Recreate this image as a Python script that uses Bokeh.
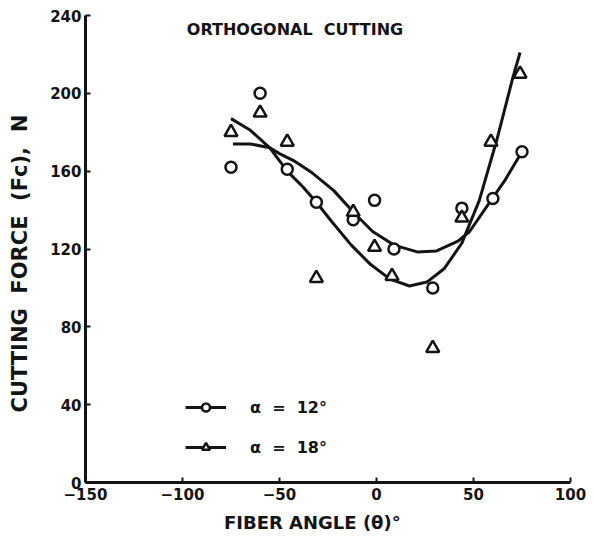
from bokeh.plotting import figure
from bokeh.models import Range1d, FixedTicker, Label, Legend, LegendItem
from bokeh.embed import file_html
from bokeh.resources import INLINE

# ---- data ----
angle_12 = [-75, -60, -46, -31, -12, -1, 9, 29, 44, 60, 75]
force_12 = [162, 200, 161, 144, 135, 145, 120, 100, 141, 146, 170]

angle_18 = [-75, -60, -46, -31, -12, -1, 8, 29, 44, 59, 74]
force_18 = [180, 190, 175, 105, 139, 121, 106, 69, 136, 175, 210]

# fitted curves
fit12_x = [-74, -65, -55, -50, -42, -33, -22, -12, -2, 9, 21, 31, 42, 48, 57, 66, 75]
fit12_y = [174, 174, 172, 169, 165, 159, 150, 139, 129, 122, 118.5, 119, 124, 129, 142, 155, 170]

fit18_x = [-75, -65, -55, -46, -38, -31, -23, -13, -3, 7, 17, 26, 35, 44, 53, 62, 70, 74]
fit18_y = [187, 181, 172, 160, 152, 144, 134, 122, 112, 104.5, 101, 103, 110, 123, 145, 176, 207, 221]

x_ticks = [-150, -100, -50, 0, 50, 100]
y_ticks = [0, 40, 80, 120, 160, 200, 240]

NB = "\u00a0"
label_12 = "α" + NB + " =" + NB + " 12°"
label_18 = "α" + NB + " =" + NB + " 18°"
title_text = "ORTHOGONAL" + NB + " CUTTING"
x_label = "FIBER  ANGLE  (θ)°" + NB * 3
y_label = "CUTTING" + NB + " FORCE" + NB + " (Fc)," + NB + " N" + NB * 4

INK = "#141414"
FONT = "DejaVu Sans"

p = figure(width=594, height=540, output_backend="svg", toolbar_location=None,
           x_range=Range1d(-150, 100), y_range=Range1d(0, 240),
           min_border_left=85, min_border_right=24, min_border_top=15,
           min_border_bottom=58, title=None)

p.grid.visible = False
p.outline_line_color = None
p.background_fill_color = "white"
p.border_fill_color = "white"

for ax in (p.xaxis[0], p.yaxis[0]):
    ax.axis_line_width = 3
    ax.axis_line_color = INK
    ax.major_tick_in = 5
    ax.major_tick_out = 0
    ax.major_tick_line_width = 2
    ax.major_tick_line_color = INK
    ax.minor_tick_line_color = None
    ax.major_label_text_font = FONT
    ax.major_label_text_font_style = "bold"
    ax.major_label_text_font_size = "15px"
    ax.major_label_text_color = INK
    ax.axis_label_text_font = FONT
    ax.axis_label_text_font_style = "bold"
    ax.axis_label_text_color = INK

p.xaxis.ticker = FixedTicker(ticks=x_ticks)
p.yaxis.ticker = FixedTicker(ticks=y_ticks)
p.xaxis.major_label_standoff = 5
p.yaxis.major_label_standoff = 4

p.xaxis.axis_label = x_label
p.xaxis.axis_label_text_font_size = "18px"
p.xaxis.axis_label_standoff = 9
p.yaxis.axis_label = y_label
p.yaxis.axis_label_text_font_size = "21px"
p.yaxis.axis_label_standoff = 15

l12 = p.line(fit12_x, fit12_y, line_color=INK, line_width=3)
l18 = p.line(fit18_x, fit18_y, line_color=INK, line_width=3)
m12 = p.scatter(angle_12, force_12, marker="circle", size=11, line_width=2.5,
                line_color=INK, fill_color="white")
m18 = p.scatter(angle_18, force_18, marker="triangle", size=13, line_width=2.5,
                line_color=INK, fill_color="white")

legend = Legend(items=[LegendItem(label=label_12, renderers=[l12, m12]),
                       LegendItem(label=label_18, renderers=[l18, m18])],
                location=(100, 25), orientation="vertical",
                glyph_width=41, glyph_height=20, label_height=20,
                spacing=20, label_standoff=24, padding=0, margin=0,
                border_line_color=None, background_fill_alpha=0,
                label_text_font=FONT, label_text_font_style="bold",
                label_text_font_size="16px", label_text_color=INK)
p.add_layout(legend)

p.add_layout(Label(x=-42, y=233, text=title_text, text_align="center",
                   text_baseline="middle", text_font=FONT,
                   text_font_style="bold", text_font_size="16px",
                   text_color=INK))

open("out.html", "w").write(file_html(p, INLINE))
